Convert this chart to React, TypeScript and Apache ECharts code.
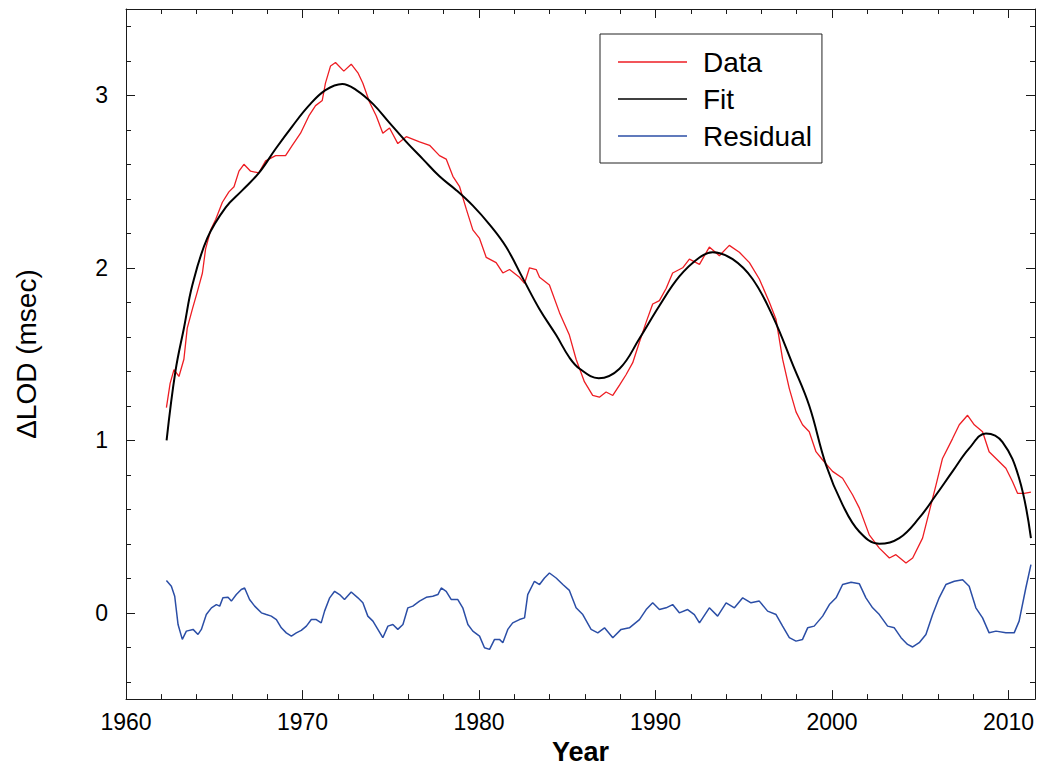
import React, { useEffect, useRef } from "react";
import * as echarts from "echarts";

// ---- Data ----
const dataYears = [
  1962.29, 1962.5, 1962.72, 1963.0, 1963.28, 1963.47, 1963.76, 1964.04, 1964.33, 1964.51,
  1964.8, 1965.08, 1965.46, 1965.83, 1966.12, 1966.4, 1966.68, 1967.06, 1967.53, 1967.91,
  1968.48, 1969.04, 1969.42, 1969.89, 1970.36, 1970.74, 1971.12, 1971.3, 1971.59, 1971.87,
  1972.34, 1972.76, 1973.14, 1973.42, 1973.8, 1974.18, 1974.55, 1974.93, 1975.4, 1975.88,
  1976.63, 1977.2, 1977.76, 1978.14, 1978.52, 1978.9, 1979.28, 1979.65, 1980.03, 1980.41,
  1980.97, 1981.35, 1981.73, 1982.29, 1982.58, 1982.86, 1983.24, 1983.43, 1983.99, 1984.56,
  1985.12, 1985.5, 1985.97, 1986.44, 1986.82, 1987.2, 1987.58, 1987.96, 1988.33, 1988.71,
  1989.09, 1989.47, 1989.84, 1990.22, 1990.6, 1990.97, 1991.54, 1991.92, 1992.49, 1993.05,
  1993.62, 1994.18, 1994.75, 1995.32, 1995.88, 1996.45, 1996.83, 1997.2, 1997.58, 1997.96,
  1998.33, 1998.71, 1999.09, 1999.47, 2000.03, 2000.6, 2001.17, 2001.55, 2002.11, 2002.68,
  2003.25, 2003.62, 2004.19, 2004.57, 2005.13, 2005.51, 2005.89, 2006.26, 2006.83, 2007.21,
  2007.68, 2008.06, 2008.53, 2008.9, 2009.29, 2009.85, 2010.23, 2010.51, 2010.89, 2011.27,
];
const dataValues = [
  1.19, 1.33, 1.41, 1.37, 1.47, 1.65, 1.76, 1.86, 1.97, 2.11,
  2.22, 2.28, 2.38, 2.44, 2.47, 2.56, 2.6, 2.56, 2.55, 2.62,
  2.65, 2.65, 2.71, 2.78, 2.88, 2.94, 2.97, 3.07, 3.17, 3.19,
  3.14, 3.18, 3.13, 3.07, 2.96, 2.88, 2.78, 2.81, 2.72, 2.76,
  2.73, 2.71, 2.65, 2.63, 2.53, 2.47, 2.34, 2.22, 2.17, 2.06,
  2.03, 1.97, 1.99, 1.945, 1.91, 2.0, 1.99, 1.945, 1.9, 1.74,
  1.61, 1.47, 1.34, 1.26, 1.25, 1.28, 1.26, 1.32, 1.38, 1.45,
  1.57, 1.685, 1.79, 1.81, 1.88, 1.97, 2.0, 2.05, 2.02, 2.12,
  2.07, 2.13, 2.09, 2.03, 1.935, 1.8, 1.7, 1.47, 1.3, 1.165,
  1.09, 1.05, 0.934, 0.886, 0.82, 0.78, 0.683, 0.607, 0.452, 0.375,
  0.318, 0.337, 0.289, 0.318, 0.433, 0.587, 0.74, 0.895, 1.01, 1.09,
  1.145, 1.09, 1.05, 0.934, 0.895, 0.838, 0.76, 0.693, 0.693, 0.7,
];

const fitYears = [
  1962.3, 1962.8, 1963.3, 1963.76, 1964.6, 1965.65, 1966.6, 1967.53, 1968.48, 1969.42,
  1970.36, 1971.3, 1972.25, 1973.05, 1973.99, 1974.93, 1975.88, 1976.82, 1977.76, 1978.71,
  1979.65, 1980.6, 1981.54, 1982.48, 1983.43, 1984.37, 1985.12, 1985.7, 1986.78, 1987.96,
  1989.09, 1990.22, 1991.35, 1992.49, 1993.24, 1994.37, 1995.5, 1996.64, 1997.77, 1998.71,
  1999.66, 2000.6, 2001.55, 2002.68, 2003.81, 2004.94, 2005.89, 2006.83, 2007.77, 2008.72,
  2009.66, 2010.6, 2011.27,
];
const fitValues = [
  1.0, 1.4, 1.66, 1.9, 2.17, 2.35, 2.45, 2.55, 2.69, 2.82,
  2.94, 3.03, 3.066, 3.03, 2.95, 2.84, 2.73, 2.63, 2.53, 2.45,
  2.36, 2.25, 2.12, 1.94, 1.76, 1.61, 1.48, 1.415, 1.36, 1.415,
  1.59, 1.78, 1.95, 2.06, 2.09, 2.05, 1.935, 1.72, 1.44, 1.2,
  0.857, 0.626, 0.47, 0.4, 0.433, 0.55, 0.683, 0.82, 0.953, 1.04,
  0.99, 0.78, 0.433,
];

const residualYears = [
  1962.29, 1962.57, 1962.76, 1962.95, 1963.19, 1963.42, 1963.8, 1964.08, 1964.27, 1964.55,
  1964.84, 1965.12, 1965.31, 1965.49, 1965.78, 1965.97, 1966.25, 1966.53, 1966.72, 1967.0,
  1967.29, 1967.67, 1967.95, 1968.23, 1968.52, 1968.8, 1969.08, 1969.37, 1969.65, 1969.93,
  1970.22, 1970.5, 1970.78, 1971.06, 1971.25, 1971.54, 1971.82, 1972.1, 1972.38, 1972.76,
  1973.14, 1973.42, 1973.7, 1973.99, 1974.27, 1974.55, 1974.84, 1975.12, 1975.4, 1975.69,
  1975.97, 1976.25, 1976.63, 1977.01, 1977.38, 1977.67, 1977.86, 1978.14, 1978.43, 1978.8,
  1979.08, 1979.37, 1979.65, 1980.03, 1980.31, 1980.6, 1980.88, 1981.16, 1981.35, 1981.63,
  1981.91, 1982.29, 1982.58, 1982.76, 1983.14, 1983.43, 1983.71, 1983.99, 1984.37, 1984.75,
  1985.12, 1985.5, 1985.88, 1986.35, 1986.73, 1987.11, 1987.58, 1988.05, 1988.52, 1989.09,
  1989.47, 1989.84, 1990.22, 1990.6, 1990.97, 1991.35, 1991.82, 1992.2, 1992.49, 1993.05,
  1993.52, 1994.0, 1994.47, 1994.94, 1995.41, 1995.88, 1996.35, 1996.83, 1997.2, 1997.58,
  1997.96, 1998.33, 1998.62, 1998.99, 1999.47, 1999.85, 2000.23, 2000.6, 2001.08, 2001.55,
  2001.92, 2002.3, 2002.68, 2003.15, 2003.53, 2003.91, 2004.28, 2004.57, 2004.94, 2005.32,
  2005.7, 2006.07, 2006.45, 2006.93, 2007.4, 2007.77, 2008.15, 2008.53, 2008.9, 2009.29,
  2009.85, 2010.32, 2010.6, 2010.98, 2011.27,
];
const residualValues = [
  0.187, 0.154, 0.096, -0.068, -0.154, -0.106, -0.096, -0.125, -0.096, -0.01,
  0.029, 0.048, 0.039, 0.087, 0.09, 0.068, 0.106, 0.135, 0.144, 0.077,
  0.039, 0.0, -0.01, -0.019, -0.039, -0.087, -0.116, -0.135, -0.116, -0.102,
  -0.077, -0.039, -0.039, -0.058, 0.01, 0.087, 0.125, 0.106, 0.077, 0.121,
  0.087, 0.058, -0.019, -0.048, -0.096, -0.144, -0.077, -0.068, -0.096, -0.068,
  0.029, 0.039, 0.068, 0.09, 0.096, 0.106, 0.144, 0.125, 0.077, 0.077,
  0.029, -0.068, -0.106, -0.135, -0.202, -0.212, -0.154, -0.154, -0.173, -0.096,
  -0.058, -0.039, -0.029, 0.106, 0.183, 0.164, 0.202, 0.231, 0.202, 0.164,
  0.13, 0.029, -0.01, -0.096, -0.116, -0.087, -0.144, -0.096, -0.087, -0.039,
  0.019, 0.058, 0.019, 0.029, 0.048, 0.0, 0.019, -0.01, -0.058, 0.029,
  -0.019, 0.058, 0.029, 0.087, 0.058, 0.068, 0.01, -0.01, -0.077, -0.144,
  -0.164, -0.154, -0.087, -0.077, -0.019, 0.048, 0.087, 0.164, 0.177, 0.168,
  0.087, 0.029, -0.01, -0.077, -0.087, -0.144, -0.183, -0.198, -0.173, -0.125,
  -0.01, 0.087, 0.164, 0.183, 0.192, 0.154, 0.029, -0.029, -0.116, -0.106,
  -0.116, -0.116, -0.048, 0.144, 0.279,
];

const seriesNames = ["Data", "Fit", "Residual"];
const xMin = 1960;
const xMax = 2011.5;
const yMin = -0.5;
const yMax = 3.5;

const FONT = "'Liberation Sans', Arial, Helvetica, sans-serif";
const AXIS_COLOR = "#1a1a1a";

function zip(xs: number[], ys: number[]) {
  return xs.map((x, i) => [x, ys[i]]);
}

function xAxisDef(position: "bottom" | "top", major: boolean, extra: any = {}) {
  return {
    type: "value",
    min: xMin,
    max: xMax,
    interval: major ? 10 : 2,
    position,
    axisLine: { show: major, onZero: false, lineStyle: { color: AXIS_COLOR, width: 1 } },
    axisTick: { show: true, inside: true, length: major ? 9 : 5, lineStyle: { color: AXIS_COLOR, width: 1 } },
    axisLabel: { show: false },
    splitLine: { show: false },
    ...extra,
  };
}

function yAxisDef(position: "left" | "right", major: boolean, extra: any = {}) {
  return {
    type: "value",
    min: yMin,
    max: yMax,
    minInterval: major ? 1 : 0.2,
    maxInterval: major ? 1 : 0.2,
    position,
    axisLine: { show: major, onZero: false, lineStyle: { color: AXIS_COLOR, width: 1 } },
    axisTick: { show: true, inside: true, length: major ? 9 : 5, lineStyle: { color: AXIS_COLOR, width: 1 } },
    axisLabel: { show: false },
    splitLine: { show: false },
    ...extra,
  };
}

export default function App() {
  const ref = useRef<HTMLDivElement>(null);

  useEffect(() => {
    if (!ref.current) return;
    const chart = echarts.init(ref.current, undefined, { renderer: "svg" });
    const option: any = {
      animation: false,
      backgroundColor: "#ffffff",
      grid: { left: 126, right: 4, top: 9, bottom: 68, containLabel: false },
      xAxis: [
        xAxisDef("bottom", true, {
          axisLabel: {
            show: true,
            fontSize: 23,
            color: "#000",
            fontFamily: FONT,
            margin: 11,
            formatter: (v: number) => (Math.abs(v % 10) < 1e-6 ? String(Math.round(v)) : ""),
          },
          name: "Year",
          nameLocation: "middle",
          nameGap: 38,
          nameTextStyle: { fontSize: 27, fontWeight: "bold", color: "#000", fontFamily: FONT },
        }),
        xAxisDef("bottom", false),
        xAxisDef("top", true),
        xAxisDef("top", false),
      ],
      yAxis: [
        yAxisDef("left", true, {
          axisLabel: {
            show: true,
            fontSize: 23,
            color: "#000",
            fontFamily: FONT,
            margin: 18,
            formatter: (v: number) => (Math.abs(v - Math.round(v)) < 1e-6 ? String(Math.round(v)) : ""),
          },
          name: "\u0394LOD (msec)",
          nameLocation: "middle",
          nameGap: 86,
          nameTextStyle: { fontSize: 28, color: "#000", fontFamily: FONT },
        }),
        yAxisDef("left", false),
        yAxisDef("right", true),
        yAxisDef("right", false),
      ],
      legend: {
        orient: "vertical",
        left: 600,
        top: 34,
        padding: [14, 10, 13, 18],
        icon: "rect",
        itemWidth: 69,
        itemHeight: 1.5,
        itemGap: 9,
        borderColor: "#222",
        borderWidth: 1,
        backgroundColor: "#fff",
        selectedMode: false,
        data: seriesNames,
        textStyle: { fontSize: 28, color: "#000", fontFamily: FONT, padding: [0, 0, 0, 11] },
      },
      series: [
        {
          type: "line",
          name: seriesNames[0],
          data: zip(dataYears, dataValues),
          symbol: "none",
          showSymbol: false,
          lineStyle: { color: "#ee1d23", width: 1.3 },
          itemStyle: { color: "#ee1d23" },
          z: 2,
        },
        {
          type: "line",
          name: seriesNames[1],
          data: zip(fitYears, fitValues),
          symbol: "none",
          showSymbol: false,
          smooth: 0.4,
          lineStyle: { color: "#000000", width: 2 },
          itemStyle: { color: "#000000" },
          z: 3,
        },
        {
          type: "line",
          name: seriesNames[2],
          data: zip(residualYears, residualValues),
          symbol: "none",
          showSymbol: false,
          lineStyle: { color: "#2b4ea6", width: 1.5 },
          itemStyle: { color: "#2b4ea6" },
          z: 2,
        },
      ],
    };
    chart.setOption(option);
    return () => chart.dispose();
  }, []);

  return (
    <div
      ref={ref}
      style={{ position: "absolute", left: 0, top: 0, width: 1039, height: 770, background: "#fff" }}
    />
  );
}
